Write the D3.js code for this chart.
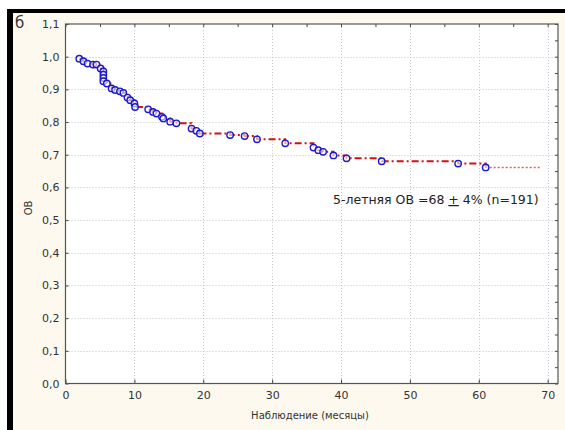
<!DOCTYPE html>
<html><head><meta charset="utf-8">
<script src="https://cdn.jsdelivr.net/npm/d3@7/dist/d3.min.js"></script>
<style>body{margin:0;background:#fff}svg{display:block}</style>
</head><body>
<svg id="c" width="565" height="430"></svg>
<script>
// survival data (months, cumulative proportion surviving)
const times = [2.0,2.6,3.2,4.0,4.5,5.1,5.5,5.5,5.5,5.5,6.0,6.7,7.2,7.9,8.4,9.0,9.4,10.0,10.1,12.0,12.7,13.2,14.0,14.2,15.2,16.1,18.3,19.0,19.5,23.9,26.0,27.8,31.9,36.0,36.7,37.4,38.9,40.8,45.9,57.0,61.0];
const surv  = [0.994,0.986,0.979,0.976,0.976,0.964,0.955,0.945,0.935,0.925,0.918,0.903,0.898,0.894,0.889,0.875,0.867,0.857,0.846,0.839,0.831,0.826,0.816,0.811,0.801,0.796,0.780,0.773,0.765,0.760,0.757,0.747,0.735,0.722,0.714,0.709,0.698,0.689,0.680,0.673,0.661];
const tailEnd = 69.0;
const xTicks = [0,10,20,30,40,50,60,70];
const yTicks = [0,0.1,0.2,0.3,0.4,0.5,0.6,0.7,0.8,0.9,1.0,1.1];
const panelLabel = "б";
const xTitle = "Наблюдение (месяцы)";
const yTitle = "ОВ";
const note = ["5-летняя ОВ =68 ", "+", " 4% (n=191)"];

const svg = d3.select("#c");
// background and frame
svg.append("rect").attr("x",0).attr("y",0).attr("width",565).attr("height",430).attr("fill","#fff");
svg.append("rect").attr("x",7).attr("y",9).attr("width",558).attr("height",421).attr("fill","#000");
svg.append("rect").attr("x",13).attr("y",13).attr("width",552).attr("height",417).attr("fill","#fdf9ee");

const L=65.5, R=558, T=24, B=383.5;
const x = d3.scaleLinear().domain([0,71.5]).range([L,R]);
const y = d3.scaleLinear().domain([0,1.1]).range([B,T]);

svg.append("rect").attr("x",L).attr("y",T).attr("width",R-L).attr("height",B-T).attr("fill","#fff");

// grid
const g = svg.append("g");
g.selectAll(".gx").data(xTicks.filter(d=>d>0)).join("line")
  .attr("x1",d=>Math.round(x(d))+0.5).attr("x2",d=>Math.round(x(d))+0.5).attr("y1",T).attr("y2",B)
  .attr("stroke","#c4c4c4").attr("stroke-dasharray","1,2");
g.selectAll(".gy").data(yTicks.filter(d=>d>0&&d<1.05)).join("line")
  .attr("y1",d=>Math.round(y(d))+0.5).attr("y2",d=>Math.round(y(d))+0.5).attr("x1",L).attr("x2",R)
  .attr("stroke","#c4c4c4").attr("stroke-dasharray","1,2");

const font = "DejaVu Sans, Verdana, sans-serif";
// axes
const ax = d3.axisBottom(x).tickValues(xTicks).tickSize(-4).tickPadding(8).tickFormat(d3.format("d"));
const axg = svg.append("g").attr("transform",`translate(0,${B})`).call(ax);
const ay = d3.axisLeft(y).tickValues(yTicks).tickSize(-3).tickPadding(6).tickFormat(d=>d3.format(".1f")(d).replace(".",","));
const ayg = svg.append("g").attr("transform",`translate(${L},0)`).call(ay);
const topTicks = d3.range(0,71,5);
const at = d3.axisTop(x).tickValues(topTicks).tickSize(-3).tickFormat("");
const atg = svg.append("g").attr("transform",`translate(0,${T})`).call(at);
const ar = d3.axisRight(y).tickValues(d3.range(0,1.101,0.05)).tickSize(-3).tickFormat("");
const arg = svg.append("g").attr("transform",`translate(${R},0)`).call(ar);
[axg,ayg,atg,arg].forEach(a=>{
  a.select(".domain").remove();
  a.selectAll("line").attr("stroke","#444");
  a.selectAll("text").attr("fill","#333").style("font-family",font).style("font-size","11px");
});
svg.append("rect").attr("x",L).attr("y",T).attr("width",R-L).attr("height",B-T)
  .attr("fill","none").attr("stroke","#555").attr("stroke-width",1.2);

// survival step line
const pts = times.map((t,i)=>[t,surv[i]]);
const line = d3.line().x(d=>x(d[0])).y(d=>y(d[1])).curve(d3.curveStepAfter);
svg.append("path").datum(pts).attr("d",line).attr("fill","none")
  .attr("stroke","#d41010").attr("stroke-width",2).attr("stroke-dasharray","7,3,2,3");
svg.append("path").datum([pts[pts.length-1],[tailEnd,surv[surv.length-1]]]).attr("d",line).attr("fill","none")
  .attr("stroke","#e06060").attr("stroke-width",1.5).attr("stroke-dasharray","2,2");

svg.append("g").selectAll("circle").data(pts).join("circle")
  .attr("cx",d=>x(d[0])).attr("cy",d=>y(d[1])).attr("r",3.2)
  .attr("fill","#fff").attr("fill-opacity",0.6).attr("stroke","#1a1ac8").attr("stroke-width",1.4);

// texts
svg.append("text").attr("x",15).attr("y",28).text(panelLabel)
  .style("font-family",font).style("font-size","15px").attr("fill","#333");
svg.append("text").attr("x",310).attr("y",419).attr("text-anchor","middle").text(xTitle)
  .style("font-family",font).style("font-size","10px").attr("fill","#333");
svg.append("text").attr("transform","translate(32,208) rotate(-90)").attr("text-anchor","middle").text(yTitle)
  .style("font-family",font).style("font-size","10px").attr("fill","#333");
const nt = svg.append("text").attr("x",333).attr("y",204)
  .style("font-family",font).style("font-size","12.5px").attr("fill","#222");
nt.append("tspan").text(note[0]);
nt.append("tspan").text(note[1]).style("text-decoration","underline");
nt.append("tspan").text(note[2]);
</script>
</body></html>
